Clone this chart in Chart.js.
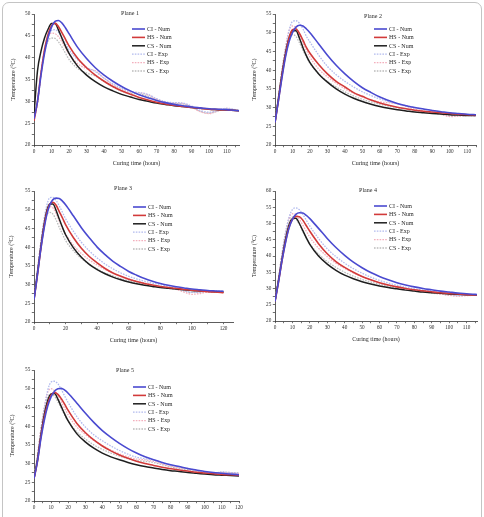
<!DOCTYPE html>
<html>
<head>
<meta charset="utf-8">
<script src="https://cdn.jsdelivr.net/npm/chart.js@4.4.1/dist/chart.umd.min.js"></script>
<style>
  html, body { margin: 0; padding: 0; background: #fff; width: 484px; height: 517px; overflow: hidden; }
  #frame { position: absolute; left: 2px; top: 2px; width: 478px; height: 560px; border: 1px solid #c4c4c4; border-radius: 7px; }
  canvas { position: absolute; }
</style>
</head>
<body>
<div id="frame"></div>
<canvas id="c1" width="242" height="180" style="left:0;top:0"></canvas>
<canvas id="c2" width="242" height="180" style="left:242px;top:0"></canvas>
<canvas id="c3" width="242" height="175" style="left:0;top:180px"></canvas>
<canvas id="c4" width="242" height="175" style="left:242px;top:180px"></canvas>
<canvas id="c5" width="250" height="175" style="left:0;top:355px"></canvas>
<script>
/* ---- data ---- */
const hours = [0, 2, 4, 6, 8, 10, 12, 14, 16, 18, 20, 25, 30, 35, 40, 45, 50, 55, 60, 65, 70, 75, 80, 85, 90, 95, 100, 105, 110, 115, 120];

const seriesNames = ["CI - Num", "HS - Num", "CS - Num", "CI - Exp", "HS - Exp", "CS - Exp"];
const planeTitles = ["Plane 1", "Plane 2", "Plane 3", "Plane 4", "Plane 5"];
const xMaxes = [117, 115, 126, 116, 120];
const xMajorSteps = [10, 10, 20, 10, 10];
const yMaxes = [50, 55, 55, 60, 55];

const plane1CiNum = [26, 30, 36, 41, 44.6, 47, 48.3, 48.5, 47.9, 46.8, 45.5, 42.3, 39.8, 37.7, 36, 34.6, 33.4, 32.4, 31.5, 30.8, 30.2, 29.7, 29.3, 29, 28.7, 28.5, 28.3, 28.2, 28.1, 27.9, 27.8];
const plane1HsNum = [25.5, 30, 36.5, 41.8, 45.3, 47.3, 47.9, 47.1, 45.7, 44.2, 42.7, 39.8, 37.7, 36, 34.6, 33.4, 32.4, 31.6, 30.9, 30.3, 29.8, 29.4, 29.1, 28.8, 28.6, 28.4, 28.2, 28.1, 28, 27.9, 27.8];
const plane1CsNum = [27, 37, 41.5, 44.5, 46.5, 47.8, 47.8, 46.3, 44.4, 42.6, 41, 38, 36, 34.5, 33.3, 32.4, 31.6, 31, 30.4, 30, 29.6, 29.3, 29, 28.8, 28.6, 28.4, 28.2, 28.1, 28, 27.9, 27.8];
const plane1CiExp = [26, 29.5, 36, 41.5, 44.8, 46.2, 46.4, 45.8, 44.6, 43.2, 41.8, 39.5, 37.8, 36.8, 35.3, 34, 33, 32.2, 32, 31.6, 30.6, 29.9, 29.7, 29.6, 28.9, 27.9, 27.5, 27.9, 28.4, 28.1, 27.8];
const plane1HsExp = [26, 30, 36.5, 42, 44.8, 45.6, 45.5, 44.8, 43.6, 42.2, 40.8, 38.6, 37.5, 37, 35.3, 33.8, 32.7, 32.1, 32, 31.5, 30.5, 29.8, 29.6, 29.5, 28.7, 27.6, 27.2, 27.8, 28.4, 28, 27.8];
const plane1CsExp = [26, 30, 36.5, 41.5, 43.8, 44.5, 44.4, 43.6, 42.4, 41, 39.6, 37.5, 36.5, 35.8, 34.5, 33.3, 32.3, 31.8, 31.7, 31.2, 30.3, 29.7, 29.5, 29.4, 28.7, 27.7, 27.3, 27.8, 28.3, 28, 27.8];

const plane2CiNum = [26, 32, 38, 43.5, 47.5, 50, 51.5, 52, 51.8, 51, 50, 47, 44, 41.3, 39, 37, 35.3, 34, 32.8, 31.9, 31.1, 30.5, 30, 29.6, 29.2, 28.9, 28.6, 28.4, 28.2, 28.1, 28];
const plane2HsNum = [26, 32, 38.5, 44, 48.5, 50.8, 51, 49.8, 48, 46, 44.5, 41.5, 39, 37, 35.5, 34, 33, 32, 31.2, 30.6, 30.1, 29.7, 29.3, 29, 28.8, 28.6, 28.4, 28.2, 28.1, 28, 27.9];
const plane2CsNum = [26, 32.5, 39, 44.5, 48.5, 50.5, 50.5, 48.5, 46, 43.8, 42, 39, 36.8, 35, 33.6, 32.5, 31.6, 30.9, 30.3, 29.8, 29.4, 29.1, 28.8, 28.6, 28.4, 28.3, 28.1, 28, 27.9, 27.9, 27.8];
const plane2CiExp = [26, 32, 39, 45.5, 50.5, 53, 53.2, 52.5, 51, 49, 47.5, 44, 41, 38.8, 37, 35.5, 34.2, 33.2, 32.3, 31.6, 31, 30.5, 30, 29.6, 29.2, 28.8, 28.4, 28.1, 28, 27.9, 27.9];
const plane2HsExp = [26, 33, 40, 46, 50.5, 51.8, 51.3, 49.5, 47.3, 45.3, 43.5, 40.3, 38.2, 36.5, 35, 33.8, 32.8, 32, 31.5, 31.3, 31, 30.3, 29.6, 29.1, 28.7, 28.2, 27.6, 27.7, 27.9, 27.8, 27.8];
const plane2CsExp = [26, 33, 40, 45.5, 48.5, 49.5, 49, 47.3, 45.3, 43.5, 41.8, 39, 37, 35.5, 34.2, 33.1, 32.2, 31.5, 30.9, 30.4, 30, 29.6, 29.2, 28.9, 28.6, 28.2, 27.8, 27.8, 27.9, 27.8, 27.8];

const plane3CiNum = [26, 32, 38.5, 44, 48.5, 51.3, 52.7, 53.1, 53, 52.3, 51.3, 48.3, 45.2, 42.5, 40, 38, 36.2, 34.8, 33.5, 32.5, 31.6, 30.9, 30.3, 29.8, 29.4, 29.1, 28.8, 28.6, 28.4, 28.3, 28.2];
const plane3HsNum = [26, 32, 38.5, 44.5, 49, 51.5, 52, 51.2, 49.5, 47.8, 46, 42.5, 39.7, 37.5, 35.8, 34.3, 33.1, 32.2, 31.4, 30.8, 30.3, 29.9, 29.5, 29.2, 29, 28.7, 28.5, 28.3, 28.1, 28, 27.8];
const plane3CsNum = [26, 32.5, 39, 45, 49.5, 51.5, 51.5, 49.8, 47.5, 45.3, 43.3, 39.8, 37.3, 35.4, 34, 32.9, 32, 31.3, 30.7, 30.2, 29.8, 29.5, 29.2, 29, 28.8, 28.6, 28.4, 28.3, 28.2, 28.1, 28];
const plane3CiExp = [26, 33, 40, 46.5, 51, 53.2, 53.3, 52.5, 51, 49.3, 47.6, 44.2, 41.3, 39, 37.1, 35.5, 34.2, 33.1, 32.2, 31.5, 30.9, 30.4, 30, 29.5, 29.1, 28.4, 27.9, 28, 28.3, 28.3, 28.2];
const plane3HsExp = [26, 33, 40, 46, 49.8, 50.8, 50.5, 49, 47, 45, 43.5, 40.5, 38.3, 36.6, 35.2, 34, 33, 32.2, 31.5, 30.9, 30.4, 29.9, 29.4, 29.1, 28.7, 28, 27.4, 27.6, 28, 28, 27.9];
const plane3CsExp = [26, 33, 40, 45.5, 48.5, 49.3, 48.8, 47.3, 45.3, 43.5, 41.8, 39, 37, 35.4, 34.2, 33.1, 32.3, 31.6, 31, 30.5, 30.1, 29.7, 29.3, 29, 28.7, 28.3, 27.9, 27.9, 28, 28, 27.9];

const plane4CiNum = [26, 32, 38.5, 44, 48.5, 51.3, 52.8, 53.3, 53.2, 52.5, 51.5, 48.5, 45.4, 42.6, 40.2, 38.1, 36.4, 34.9, 33.7, 32.7, 31.8, 31.1, 30.5, 30, 29.6, 29.2, 28.9, 28.6, 28.4, 28.2, 28.1];
const plane4HsNum = [26, 32, 38.5, 44.3, 48.8, 51.3, 52.2, 52.1, 51, 49.3, 47.6, 43.8, 40.7, 38.3, 36.5, 35, 33.7, 32.7, 31.8, 31.1, 30.5, 30, 29.6, 29.3, 29, 28.7, 28.5, 28.3, 28.1, 28, 27.9];
const plane4CsNum = [26, 32.5, 39, 45, 49.5, 51.5, 51.6, 50, 47.8, 45.6, 43.6, 40, 37.5, 35.6, 34.1, 33, 32.1, 31.4, 30.8, 30.3, 29.9, 29.5, 29.2, 28.9, 28.7, 28.5, 28.3, 28.2, 28.1, 28, 27.9];
const plane4CiExp = [26, 33, 40.5, 47, 51.8, 54.3, 54.8, 54.2, 52.8, 51, 49.2, 45.4, 42.2, 39.8, 37.8, 36.1, 34.7, 33.5, 32.5, 31.7, 31, 30.4, 29.9, 29.5, 29.1, 28.7, 28.3, 27.9, 27.9, 28, 28];
const plane4HsExp = [26, 33, 40.5, 47, 51.5, 53, 52.7, 51.3, 49.5, 47.6, 45.8, 42.4, 39.8, 37.8, 36.2, 34.8, 33.6, 32.6, 31.8, 31.1, 30.5, 30, 29.5, 29.1, 28.7, 28.3, 27.9, 27.6, 27.8, 27.9, 27.9];
const plane4CsExp = [26, 33, 40.5, 46.5, 51, 52, 51.4, 49.6, 47.5, 45.5, 43.7, 40.6, 38.3, 36.5, 35, 33.8, 32.8, 32, 31.3, 30.7, 30.2, 29.7, 29.3, 29, 28.6, 28.3, 28, 27.8, 27.9, 27.9, 27.9];

const plane5CiNum = [26, 30.5, 36.5, 41.5, 45.3, 47.8, 49.3, 50, 50.1, 49.6, 48.8, 46.2, 43.5, 41, 38.8, 37, 35.4, 34, 32.8, 31.8, 31, 30.3, 29.7, 29.2, 28.7, 28.3, 27.9, 27.6, 27.4, 27.2, 27];
const plane5HsNum = [26, 30.5, 37, 42.3, 46, 48.3, 49, 48.5, 47.3, 45.8, 44.2, 40.8, 38.3, 36.3, 34.7, 33.4, 32.3, 31.4, 30.6, 30, 29.5, 29, 28.6, 28.3, 28, 27.7, 27.5, 27.3, 27.1, 27, 26.9];
const plane5CsNum = [26, 31, 37.5, 43, 46.8, 48.6, 48.7, 47.2, 45.2, 43.2, 41.4, 38, 35.8, 34.1, 32.8, 31.8, 31, 30.3, 29.7, 29.2, 28.8, 28.4, 28.1, 27.9, 27.6, 27.4, 27.2, 27, 26.9, 26.8, 26.7];
const plane5CiExp = [26, 31.5, 38.5, 44.5, 49.5, 51.8, 52, 51.3, 49.8, 48, 46.3, 42.6, 39.8, 37.7, 36.1, 34.7, 33.5, 32.5, 31.7, 31.3, 31, 30.3, 29.6, 29.1, 28.7, 28.2, 27.6, 27.5, 27.7, 27.6, 27.4];
const plane5HsExp = [26, 32, 39, 45, 49, 50, 49.5, 48.2, 46.5, 44.7, 43, 39.8, 37.8, 36.2, 34.8, 33.6, 32.6, 31.8, 31.2, 31, 30.6, 29.9, 29.3, 28.9, 28.6, 28.1, 27.5, 27.3, 27.6, 27.5, 27.3];
const plane5CsExp = [26, 32, 39, 44.5, 47.8, 48.5, 48, 46.5, 44.7, 42.9, 41.3, 38.5, 36.6, 35, 33.8, 32.8, 32, 31.3, 30.8, 30.6, 30.3, 29.7, 29.1, 28.7, 28.4, 28, 27.6, 27.5, 27.7, 27.6, 27.5];

const planeSeries = [
  [plane1CiNum, plane1HsNum, plane1CsNum, plane1CiExp, plane1HsExp, plane1CsExp],
  [plane2CiNum, plane2HsNum, plane2CsNum, plane2CiExp, plane2HsExp, plane2CsExp],
  [plane3CiNum, plane3HsNum, plane3CsNum, plane3CiExp, plane3HsExp, plane3CsExp],
  [plane4CiNum, plane4HsNum, plane4CsNum, plane4CiExp, plane4HsExp, plane4CsExp],
  [plane5CiNum, plane5HsNum, plane5CsNum, plane5CiExp, plane5HsExp, plane5CsExp],
];

/* ---- styling ---- */
const FONT = '"Liberation Serif", "DejaVu Serif", serif';
const INK = "#2a2a2a";
const seriesColors = ["#4a4ad0", "#d23a3a", "#1e1e1e", "#b2bbee", "#f3b0bd", "#bcbcbc"];
const seriesWidths = [1.6, 1.6, 1.5, 1.3, 1.3, 1.3];
const seriesDash = [[], [], [], [1.6, 1.2], [1.6, 1.2], [1.6, 1.2]];

// per-panel placement inside its canvas: chart area [l, t, r, b], title / legend anchors
const panes = [
  { id: "c1", area: [34, 14, 239, 145], titleAt: [130, 13], legendAt: [132, 29], yTitlePad: 9.4, xTitleY: 163 },
  { id: "c2", area: [33, 14, 234, 145], titleAt: [131, 16], legendAt: [132, 29], yTitlePad: 9.2, xTitleY: 163 },
  { id: "c3", area: [34, 11, 233, 142], titleAt: [123, 8], legendAt: [133, 27], yTitlePad: 7.5, xTitleY: 160 },
  { id: "c4", area: [33, 11, 235, 141], titleAt: [126, 10], legendAt: [132, 26], yTitlePad: 8.5, xTitleY: 159 },
  { id: "c5", area: [34, 15, 239, 146], titleAt: [125, 15], legendAt: [133, 32], yTitlePad: 8.5, xTitleY: 165 },
];

const planeDecor = {
  id: "planeDecor",
  afterDraw(chart, args, o) {
    const ctx = chart.ctx;
    ctx.save();
    ctx.fillStyle = INK;
    ctx.font = "6px " + FONT;
    ctx.textAlign = "center";
    ctx.textBaseline = "middle";
    ctx.fillText(o.title, o.titleAt[0], o.titleAt[1]);
    ctx.textAlign = "left";
    chart.data.datasets.forEach((ds, i) => {
      const y = o.legendAt[1] + i * 8.4;
      ctx.strokeStyle = ds.borderColor;
      ctx.lineWidth = ds.borderWidth;
      ctx.setLineDash(ds.borderDash);
      ctx.beginPath();
      ctx.moveTo(o.legendAt[0], y);
      ctx.lineTo(o.legendAt[0] + 13, y);
      ctx.stroke();
      ctx.setLineDash([]);
      ctx.fillText(ds.label, o.legendAt[0] + 15, y + 0.3);
    });
    ctx.restore();
  }
};

function makePlane(k) {
  const p = panes[k];
  const cv = document.getElementById(p.id);
  const W = cv.width, H = cv.height;
  const [L, T, R, B] = p.area;
  const xMax = xMaxes[k], xMajor = xMajorSteps[k], xMinor = xMajor / 2;
  const datasets = seriesNames.map((name, i) => ({
    label: name,
    data: hours.map((h, j) => ({ x: h, y: planeSeries[k][i][j] })),
    borderColor: seriesColors[i],
    borderWidth: seriesWidths[i],
    borderDash: seriesDash[i],
    pointRadius: 0,
    cubicInterpolationMode: "monotone",
    fill: false,
  }));
  const tickFont = { family: FONT, size: 5.2 };
  const titleFont = { family: FONT, size: 6 };
  return new Chart(cv.getContext("2d"), {
    type: "line",
    data: { datasets },
    plugins: [planeDecor],
    options: {
      responsive: false,
      animation: false,
      layout: { padding: { left: 0, top: T, right: W - R, bottom: 0 } },
      plugins: {
        legend: { display: false },
        tooltip: { enabled: false },
        planeDecor: { title: planeTitles[k], titleAt: p.titleAt, legendAt: p.legendAt },
      },
      scales: {
        x: {
          type: "linear", min: 0, max: xMax,
          afterFit: s => { s.height = H - B; },
          afterBuildTicks: s => {
            const t = [];
            for (let v = 0; v <= xMax + 1e-6; v += xMinor) t.push({ value: v });
            s.ticks = t;
          },
          ticks: { autoSkip: false, maxRotation: 0, padding: 1, color: INK, font: tickFont,
                   callback: v => (v % xMajor === 0 ? v : "") },
          grid: { drawOnChartArea: false, tickLength: 2.2, tickColor: "#333", tickWidth: 0.7 },
          border: { color: "#333", width: 0.8 },
          title: { display: true, text: "Curing time (hours)", color: INK, font: titleFont,
                   padding: { top: 0, bottom: H - p.xTitleY - 3.6 } },
        },
        y: {
          min: 20, max: yMaxes[k],
          afterFit: s => { s.width = L; },
          afterBuildTicks: s => {
            const t = [];
            for (let v = 20; v <= yMaxes[k] + 1e-6; v += 2.5) t.push({ value: v });
            s.ticks = t;
          },
          ticks: { autoSkip: false, padding: 1.5, color: INK, font: tickFont,
                   callback: v => (v % 5 === 0 ? v : "") },
          grid: { drawOnChartArea: false, tickLength: 2.2, tickColor: "#333", tickWidth: 0.7 },
          border: { color: "#333", width: 0.8 },
          title: { display: true, text: "Temperature (°C)", color: INK, font: titleFont,
                   padding: { top: p.yTitlePad, bottom: 0 } },
        },
      },
    },
  });
}

planeTitles.forEach((t, k) => makePlane(k));
</script>
</body>
</html>
